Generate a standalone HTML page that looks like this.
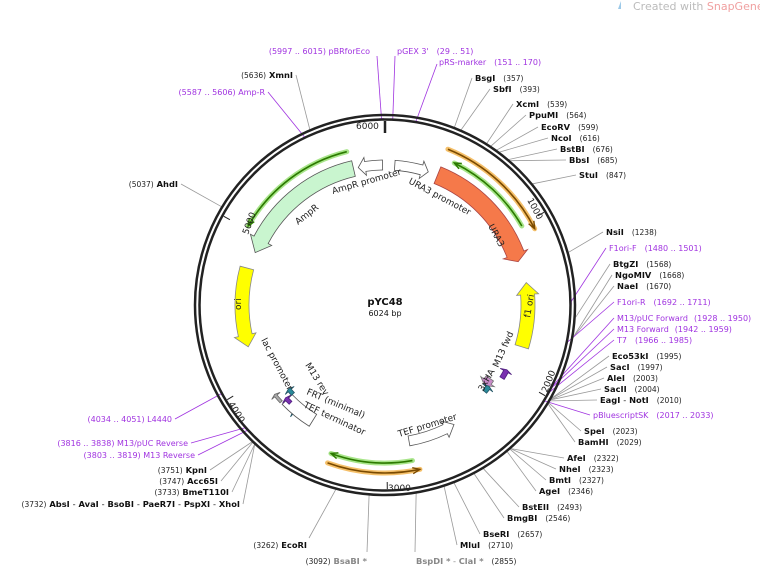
<!DOCTYPE html>
<html><head><meta charset="utf-8"><style>
html,body{margin:0;padding:0;background:#fff}
svg{display:block;font-family:"DejaVu Sans","Liberation Sans",sans-serif}
.e{font-weight:bold;font-size:8.3px;fill:#111}
.n{font-size:7.5px;fill:#222;font-weight:normal}
.p{font-size:8px;fill:#a033e0}
.g{font-weight:bold;font-size:8.3px;fill:#888}
.gn{font-size:7.5px;fill:#888}
</style></head><body>
<svg id="s" width="760" height="567" viewBox="0 0 760 567">
<text x="633" y="10" font-size="11" fill="#bbb">Created with <tspan fill="#f0a0a0">SnapGene</tspan>®</text>
<path d="M621 1 l-3 8 l3 0z" fill="#9cc9e8"/>
<g id="geo"></g>
<text x="385" y="305" text-anchor="middle" font-weight="bold" font-size="10" fill="#111">pYC48</text>
<text x="385" y="316" text-anchor="middle" font-size="8" fill="#111">6024 bp</text>
<text x="356" y="129" font-size="9" fill="#222">6000</text>
<text x="388" y="491" font-size="9" fill="#222">3000</text>
<text transform="translate(527,200) rotate(62)" font-size="9" fill="#222">1000</text>
<text transform="translate(547,393) rotate(-68)" font-size="9" fill="#222">2000</text>
<text transform="translate(228,404) rotate(58)" font-size="9" fill="#222">4000</text>
<text transform="translate(248,235) rotate(-70)" font-size="9" fill="#222">5000</text>
<text transform="translate(488,226) rotate(62)" font-size="9" fill="#222">URA3</text>
<text transform="translate(408,183) rotate(28)" font-size="9" fill="#222">URA3 promoter</text>
<text transform="translate(333,194) rotate(-16)" font-size="9" fill="#222">AmpR promoter</text>
<text transform="translate(298,225) rotate(-38)" font-size="9" fill="#222">AmpR</text>
<text transform="translate(241,310) rotate(-90)" font-size="9" fill="#222">ori</text>
<text transform="translate(530,318) rotate(-80)" font-size="9" fill="#222">f1 ori</text>
<text transform="translate(498,368) rotate(-66)" font-size="9" fill="#222">M13 fwd</text>
<text transform="translate(483,392) rotate(-60)" font-size="9" fill="#222">3xHA</text>
<text transform="translate(399,437) rotate(-17)" font-size="9" fill="#222">TEF promoter</text>
<text transform="translate(305,365) rotate(58)" font-size="9" fill="#222">M13 rev</text>
<text transform="translate(261,340) rotate(62)" font-size="9" fill="#222">lac promoter</text>
<text transform="translate(306,394) rotate(23)" font-size="9" fill="#222">FRT (minimal)</text>
<text transform="translate(303,407) rotate(25)" font-size="9" fill="#222">TEF terminator</text>
<text x="475" y="81" class="e">BsgI<tspan class="n" dx="8">(357)</tspan></text>
<text x="493" y="92" class="e">SbfI<tspan class="n" dx="8">(393)</tspan></text>
<text x="516" y="107" class="e">XcmI<tspan class="n" dx="8">(539)</tspan></text>
<text x="529" y="118" class="e">PpuMI<tspan class="n" dx="8">(564)</tspan></text>
<text x="541" y="130" class="e">EcoRV<tspan class="n" dx="8">(599)</tspan></text>
<text x="551" y="141" class="e">NcoI<tspan class="n" dx="8">(616)</tspan></text>
<text x="560" y="152" class="e">BstBI<tspan class="n" dx="8">(676)</tspan></text>
<text x="569" y="163" class="e">BbsI<tspan class="n" dx="8">(685)</tspan></text>
<text x="579" y="178" class="e">StuI<tspan class="n" dx="8">(847)</tspan></text>
<text x="606" y="235" class="e">NsiI<tspan class="n" dx="8">(1238)</tspan></text>
<text x="609" y="251" class="p">F1ori-F<tspan dx="8">(1480 .. 1501)</tspan></text>
<text x="613" y="267" class="e">BtgZI<tspan class="n" dx="8">(1568)</tspan></text>
<text x="615" y="278" class="e">NgoMIV<tspan class="n" dx="8">(1668)</tspan></text>
<text x="617" y="289" class="e">NaeI<tspan class="n" dx="8">(1670)</tspan></text>
<text x="617" y="305" class="p">F1ori-R<tspan dx="8">(1692 .. 1711)</tspan></text>
<text x="617" y="321" class="p">M13/pUC Forward<tspan dx="6">(1928 .. 1950)</tspan></text>
<text x="617" y="332" class="p">M13 Forward<tspan dx="6">(1942 .. 1959)</tspan></text>
<text x="617" y="343" class="p">T7<tspan dx="8">(1966 .. 1985)</tspan></text>
<text x="612" y="359" class="e">Eco53kI<tspan class="n" dx="8">(1995)</tspan></text>
<text x="610" y="370" class="e">SacI<tspan class="n" dx="8">(1997)</tspan></text>
<text x="607" y="381" class="e">AleI<tspan class="n" dx="8">(2003)</tspan></text>
<text x="604" y="392" class="e">SacII<tspan class="n" dx="8">(2004)</tspan></text>
<text x="600" y="403" class="e">EagI <tspan font-weight="normal">-</tspan> NotI<tspan class="n" dx="8">(2010)</tspan></text>
<text x="593" y="418" class="p">pBluescriptSK<tspan dx="8">(2017 .. 2033)</tspan></text>
<text x="584" y="434" class="e">SpeI<tspan class="n" dx="8">(2023)</tspan></text>
<text x="578" y="445" class="e">BamHI<tspan class="n" dx="8">(2029)</tspan></text>
<text x="567" y="461" class="e">AfeI<tspan class="n" dx="8">(2322)</tspan></text>
<text x="559" y="472" class="e">NheI<tspan class="n" dx="8">(2323)</tspan></text>
<text x="549" y="483" class="e">BmtI<tspan class="n" dx="8">(2327)</tspan></text>
<text x="539" y="494" class="e">AgeI<tspan class="n" dx="8">(2346)</tspan></text>
<text x="522" y="510" class="e">BstEII<tspan class="n" dx="8">(2493)</tspan></text>
<text x="507" y="521" class="e">BmgBI<tspan class="n" dx="8">(2546)</tspan></text>
<text x="483" y="537" class="e">BseRI<tspan class="n" dx="8">(2657)</tspan></text>
<text x="460" y="548" class="e">MluI<tspan class="n" dx="8">(2710)</tspan></text>
<text x="416" y="564" class="g">BspDI *<tspan font-weight="normal"> - </tspan>ClaI *<tspan class="n" dx="8">(2855)</tspan></text>
<text x="367" y="564" class="g" text-anchor="end"><tspan class="n">(3092)</tspan>  BsaBI *</text>
<text x="307" y="548" class="e" text-anchor="end"><tspan class="n">(3262)</tspan>  EcoRI</text>
<text x="240" y="507" class="e" text-anchor="end"><tspan class="n">(3732)</tspan>  AbsI <tspan font-weight="normal">-</tspan> AvaI <tspan font-weight="normal">-</tspan> BsoBI <tspan font-weight="normal">-</tspan> PaeR7I <tspan font-weight="normal">-</tspan> PspXI <tspan font-weight="normal">-</tspan> XhoI</text>
<text x="229" y="495" class="e" text-anchor="end"><tspan class="n">(3733)</tspan>  BmeT110I</text>
<text x="218" y="484" class="e" text-anchor="end"><tspan class="n">(3747)</tspan>  Acc65I</text>
<text x="207" y="473" class="e" text-anchor="end"><tspan class="n">(3751)</tspan>  KpnI</text>
<text x="195" y="458" class="p" text-anchor="end">(3803 .. 3819)  M13 Reverse</text>
<text x="188" y="446" class="p" text-anchor="end">(3816 .. 3838)  M13/pUC Reverse</text>
<text x="172" y="422" class="p" text-anchor="end">(4034 .. 4051)  L4440</text>
<text x="178" y="187" class="e" text-anchor="end"><tspan class="n">(5037)</tspan>  AhdI</text>
<text x="265" y="95" class="p" text-anchor="end">(5587 .. 5606)  Amp-R</text>
<text x="293" y="78" class="e" text-anchor="end"><tspan class="n">(5636)</tspan>  XmnI</text>
<text x="370" y="54" class="p" text-anchor="end">(5997 .. 6015)  pBRforEco</text>
<text x="397" y="54" class="p">pGEX 3'<tspan dx="8">(29 .. 51)</tspan></text>
<text x="439" y="65" class="p">pRS-marker<tspan dx="8">(151 .. 170)</tspan></text>
</svg>
<script>
var cx=385,cy=305,N=6024,NS="http://www.w3.org/2000/svg",G=document.getElementById('geo');
function P(a,r){a=a*Math.PI/180;return [cx+r*Math.sin(a),cy-r*Math.cos(a)];}
function A(p){return p/N*360;}
function add(t,at){var e=document.createElementNS(NS,t);for(var k in at)e.setAttribute(k,at[k]);G.appendChild(e);return e;}
function arc(a1,a2,r){var s=P(a1,r),e=P(a2,r);var large=Math.abs(a2-a1)>180?1:0,sw=a2>a1?1:0;return "M"+s+" A"+r+","+r+" 0 "+large+","+sw+" "+e;}
function L(pos,x,y,col,r0){var s=P(A(pos),r0||191);add('polyline',{points:s+" "+x+","+y,fill:"none",stroke:col||"#999","stroke-width":0.8});}
var R=[[357,472,78],[393,490,89],[539,513,104],[564,526,115],[599,538,127],[616,548,138],[676,557,149],[685,566,160],[847,576,175],[1238,603,232],[1568,610,264],[1668,612,275],[1670,614,286],[1995,609,356],[1997,607,367],[2003,604,378],[2004,601,389],[2010,597,400],[2023,581,431],[2029,575,442],[2322,564,458],[2323,556,469],[2327,546,480],[2346,536,491],[2493,519,507],[2546,504,518],[2657,480,534],[2710,457,545],[2855,415,552],[3092,367,552],[3262,309,538],[3732,243,504],[3733,232,492],[3747,221,481],[3751,210,470],[5037,181,184],[5636,296,75]];
R.forEach(function(r){L(r[0],r[1],r[2]);});
var Pm=[[1490,606,248],[1700,614,302],[1939,614,318],[1950,614,329],[1975,614,340],[2025,590,415],[3810,198,455],[3827,191,443],[4042,175,419],[5596,268,92],[6006,377,56],[40,395,56],[160,437,64]];
Pm.forEach(function(r){L(r[0],r[1],r[2],"#a033e0",186);var a=A(r[0]);add('path',{d:arc(a-0.8,a+0.8,186),stroke:"#a033e0","stroke-width":1.5,fill:"none"});});
add('circle',{cx:cx,cy:cy,r:190,fill:"none",stroke:"#222","stroke-width":2.5});
add('circle',{cx:cx,cy:cy,r:185.5,fill:"none",stroke:"#222","stroke-width":2.5});
for(var i=0;i<6;i++){var a=A(i*1000);var s=P(a,184),e=P(a,177);add('line',{x1:s[0],y1:s[1],x2:e[0],y2:e[1],stroke:"#222","stroke-width":1});}
var t0=P(0,184),t1=P(0,172);add('line',{x1:t0[0],y1:t0[1],x2:t1[0],y2:t1[1],stroke:"#222","stroke-width":2.5});
function F(a1,a2,r,w,fill,stroke,head){var dir=a2>a1?1:-1;head=head||8;var hb=a2-dir*head*180/(Math.PI*r);
var o1=P(a1,r+w/2),o2=P(hb,r+w/2),i1=P(a1,r-w/2),i2=P(hb,r-w/2),h1=P(hb,r+w/2+4),h2=P(hb,r-w/2-4),tip=P(a2,r);
var sw=dir>0?1:0,sw2=dir>0?0:1;
var d="M"+i1+" L"+o1+" A"+(r+w/2)+","+(r+w/2)+" 0 0,"+sw+" "+o2+" L"+h1+" L"+tip+" L"+h2+" L"+i2+" A"+(r-w/2)+","+(r-w/2)+" 0 0,"+sw2+" "+i1+"Z";
add('path',{d:d,fill:fill,stroke:stroke||"#555","stroke-width":0.8});}
function B(a1,a2,r,col,glow){add('path',{d:arc(a1,a2,r),fill:"none",stroke:glow,"stroke-width":5,"stroke-linecap":"round"});
add('path',{d:arc(a1,a2,r),fill:"none",stroke:col,"stroke-width":1.6});var dir=a2>a1?1:-1;var t=P(a2,r),b=P(a2-dir*2.5,r+3),c=P(a2-dir*2.5,r-3);add('path',{d:"M"+b+" L"+t+" L"+c,fill:"none",stroke:col,"stroke-width":1.4});}
B(22,63,168,"#7a4a00","#f5c06a");
B(60,26,158,"#2c7a00","#a8e58a");
B(170,200,158,"#2c7a00","#a8e58a");
B(200,168,168,"#7a4a00","#f5c06a");
B(346,300,158,"#2c7a00","#a8e58a");
F(22,72,140,18,"#f5794a","#a44");
F(4,18,140,10,"#fff","#555",7);
F(359,349,140,10,"#fff","#555",7);
F(347,292,140,16,"#c9f5cf","#555",14);
F(285,253,143,14,"#ffff00","#888",12);
F(107,81,143,14,"#ffff00","#888",12);
F(170,150,138,10,"#fff","#555",10);
F(122,118,138,5,"#7a30b0","#502080",2);
F(125,129,128,9,"#c98bc9","#777",5);
F(131,128,132,5,"#2a8a9a","#256",2);
F(216,221,140,5,"#2a8a9a","#256",2);
add('path',{d:arc(212,226,143)+" L"+P(226,129)+" "+arc(226,212,129).replace('M','L')+"Z",fill:"#fff",stroke:"#555","stroke-width":0.8});
F(224,227,136,4,"#7a30b0","#502080",2);
F(226,229,128,4,"#2a8a9a","#256",2);
F(227,231,142,3,"#aaa","#666",2);
</script>
</body></html>
